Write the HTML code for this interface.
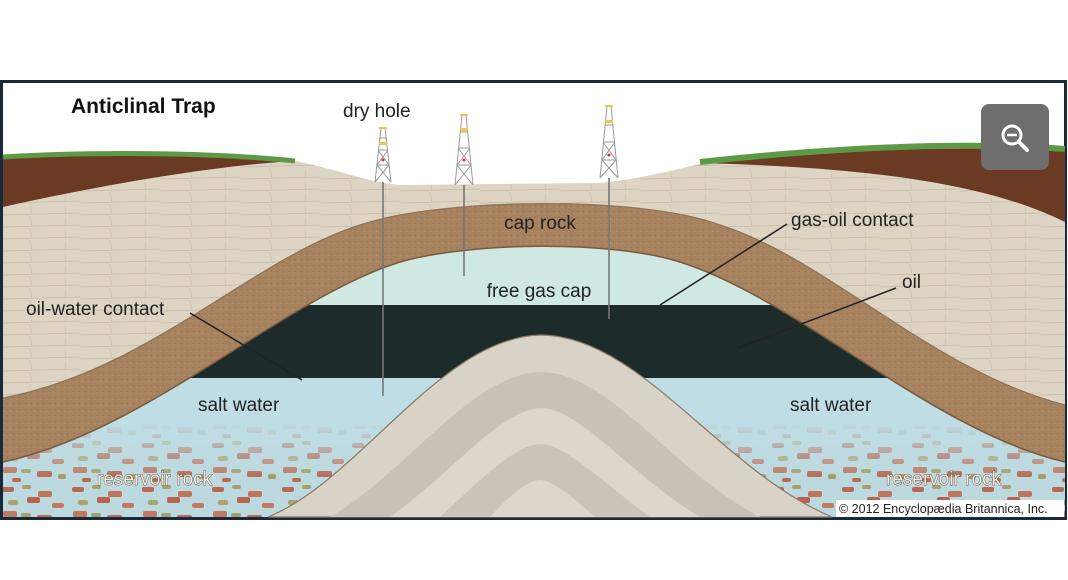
<!DOCTYPE html>
<html><head><meta charset="utf-8"><style>
html,body{margin:0;padding:0;background:#fff;}
svg{display:block;}
text{font-family:"Liberation Sans",sans-serif;}
</style></head><body>
<svg width="1068" height="580" viewBox="0 0 1068 580" xmlns="http://www.w3.org/2000/svg">
<defs>
<pattern id="speck" width="70" height="44" patternUnits="userSpaceOnUse">
<rect width="70" height="44" fill="#bcd9df"/>
<rect x="2" y="3" width="12" height="5" rx="2" fill="#b86a55"/>
<rect x="22" y="1" width="9" height="4" rx="2" fill="#a9a06a"/>
<rect x="38" y="7" width="14" height="6" rx="2" fill="#c0745c"/>
<rect x="8" y="16" width="10" height="5" rx="2" fill="#a8a470"/>
<rect x="27" y="13" width="13" height="6" rx="2" fill="#b5654f"/>
<rect x="52" y="19" width="12" height="5" rx="2" fill="#c27a62"/>
<rect x="3" y="27" width="14" height="6" rx="2" fill="#c07a60"/>
<rect x="21" y="29" width="10" height="4" rx="2" fill="#9fa26d"/>
<rect x="37" y="31" width="15" height="6" rx="2" fill="#b76b55"/>
<rect x="58" y="34" width="8" height="5" rx="2" fill="#a69c68"/>
<rect x="12" y="38" width="9" height="4" rx="2" fill="#b86a55"/>
</pattern>
<linearGradient id="wfade" x1="0" y1="0" x2="0" y2="1">
<stop offset="0" stop-color="#bfdde4" stop-opacity="1"/>
<stop offset="0.45" stop-color="#bfdde4" stop-opacity="1"/>
<stop offset="1" stop-color="#bfdde4" stop-opacity="0"/>
</linearGradient>
<pattern id="strata" width="80" height="12" patternUnits="userSpaceOnUse">
<rect width="80" height="12" fill="#ddd4c3"/>
<path d="M0 11 L80 9" stroke="#c6baa5" stroke-width="0.8"/>
<path d="M30 0 L32 10 M65 2 L66 10" stroke="#c9bea9" stroke-width="0.6"/>
</pattern>
<pattern id="caprock" width="6" height="6" patternUnits="userSpaceOnUse">
<rect width="6" height="6" fill="#a6825f"/>
<rect x="1" y="1" width="1" height="1" fill="#8f6e4f"/>
<rect x="4" y="3" width="1" height="1" fill="#bb9670"/>
</pattern>
</defs>
<rect width="1068" height="580" fill="#fff"/>
<rect x="1.5" y="81.5" width="1064" height="437" fill="#fff" stroke="#17293a" stroke-width="3"/>
<g>
<rect x="3" y="200" width="1062" height="317" fill="url(#speck)"/>
<rect x="3" y="378" width="1062" height="100" fill="url(#wfade)"/>
<rect x="3" y="200" width="1062" height="105" fill="#cfe8e2"/>
<rect x="3" y="305" width="1062" height="73" fill="#1d2b2b"/>
<path d="M3,398 C150,370 250,260 360,225 C440,198 640,195 720,225 C830,260 930,370 1065,405 L1065,462 C930,430 800,300 680,262 C610,240 470,242 400,262 C280,300 150,430 3,462 Z" fill="url(#caprock)"/>
<path d="M3,462 C150,430 280,300 400,262 C470,242 610,240 680,262 C800,300 930,430 1065,462" fill="none" stroke="#7a5a3e" stroke-width="1.5"/>
<path d="M3,155 C100,150 250,152 300,162 C340,170 370,183 400,185 L600,183 C650,178 690,165 720,160 C850,145 1000,140 1065,150 L1065,405 C930,370 830,260 720,225 C640,195 440,198 360,225 C250,260 150,370 3,398 Z" fill="url(#strata)"/>
<path d="M3,398 C150,370 250,260 360,225 C440,198 640,195 720,225 C830,260 930,370 1065,405" fill="none" stroke="#8d7358" stroke-width="1.2"/>
<path d="M3,157 C100,152 220,154 295,161 C220,165 100,185 3,207 Z" fill="#6b3a22"/>
<path d="M700,163 C820,150 950,142 1065,150 L1065,222 C1000,190 900,168 700,163 Z" fill="#6b3a22"/>
<path d="M3,157 C100,151 220,153 295,161" fill="none" stroke="#5d9a45" stroke-width="5"/>
<path d="M700,162 C820,149 950,141 1065,149" fill="none" stroke="#5d9a45" stroke-width="6"/>
<path d="M268,517 C360,480 440,338 540,335 C640,335 720,470 832,517 Z" fill="#d9d3c7" stroke="#8a7a66" stroke-width="1.2"/>
<path d="M330,517 C410,470 470,375 540,372 C610,372 670,470 760,517 Z" fill="#c8c2b6"/>
<path d="M390,517 C450,475 500,410 540,408 C580,408 630,475 700,517 Z" fill="#ddd7cb"/>
<path d="M440,517 C480,480 515,445 540,444 C565,444 600,480 650,517 Z" fill="#cac4b8"/>
<path d="M490,517 C510,495 528,480 540,480 C552,480 570,495 595,517 Z" fill="#ddd7cb"/>
</g>
<g stroke="#777" stroke-width="1.6">
<line x1="383" y1="182" x2="383" y2="396"/>
<line x1="464" y1="185" x2="464" y2="276"/>
<line x1="609" y1="178" x2="609" y2="319"/>
</g>
<g fill="none" stroke="#9a9a9a" stroke-width="1">
<path d="M375,182 L381,128 L385,128 L391,182 M377,165 L389,165 M378,150 L388,150 M379,138 L387,138 M375,182 L389,165 M391,182 L377,165 M377,165 L388,150 M389,165 L378,150"/>
<path d="M455,185 L462,115 L466,115 L473,185 M457,165 L471,165 M458,148 L470,148 M460,132 L468,132 M455,185 L471,165 M473,185 L457,165 M457,165 L470,148 M471,165 L458,148"/>
<path d="M600,178 L607,106 L611,106 L618,178 M602,160 L616,160 M603,142 L615,142 M605,125 L613,125 M600,178 L616,160 M618,178 L602,160 M602,160 L615,142 M616,160 L603,142"/>
</g>
<g fill="#e8c84a"><rect x="379" y="142" width="8" height="3"/><rect x="460" y="128" width="8" height="3"/><rect x="605" y="120" width="8" height="3"/><rect x="379" y="127" width="8" height="2"/><rect x="460" y="114" width="8" height="2"/><rect x="605" y="105" width="8" height="2"/></g>
<g fill="#d33"><circle cx="383" cy="160" r="1.5"/><circle cx="464" cy="160" r="1.5"/><circle cx="609" cy="155" r="1.5"/></g>
<g stroke="#222" stroke-width="1.5">
<line x1="190" y1="313" x2="302" y2="380"/>
<line x1="787" y1="224" x2="660" y2="305"/>
<line x1="896" y1="288" x2="738" y2="348"/>
</g>
<rect x="981" y="104" width="68" height="66" rx="8" fill="#6e6e6e"/>
<circle cx="1012" cy="135" r="9" fill="none" stroke="#fff" stroke-width="3"/>
<line x1="1007" y1="135" x2="1017" y2="135" stroke="#fff" stroke-width="2.5"/>
<line x1="1019" y1="142" x2="1027" y2="150" stroke="#fff" stroke-width="4" stroke-linecap="round"/>
<text x="71" y="113" font-size="21" font-weight="bold" fill="#111">Anticlinal Trap</text>
<text x="343" y="117" font-size="19" fill="#222">dry hole</text>
<text x="540" y="229" font-size="19" fill="#222" text-anchor="middle">cap rock</text>
<text x="539" y="297" font-size="19" fill="#222" text-anchor="middle">free gas cap</text>
<text x="791" y="226" font-size="19" fill="#222">gas-oil contact</text>
<text x="902" y="288" font-size="19" fill="#222">oil</text>
<text x="26" y="315" font-size="19" fill="#222">oil-water contact</text>
<text x="198" y="411" font-size="19" fill="#222">salt water</text>
<text x="790" y="411" font-size="19" fill="#222">salt water</text>
<g font-size="19" fill="#f3ece2" stroke="#5a3a2a" stroke-width="0.8" paint-order="stroke">
<text x="97" y="485">reservoir rock</text>
<text x="886" y="485">reservoir rock</text>
</g>
<rect x="836" y="500" width="228" height="17" fill="#fff"/>
<text x="839" y="513" font-size="12.5" fill="#222">© 2012 Encyclopædia Britannica, Inc.</text>
</svg>
</body></html>
